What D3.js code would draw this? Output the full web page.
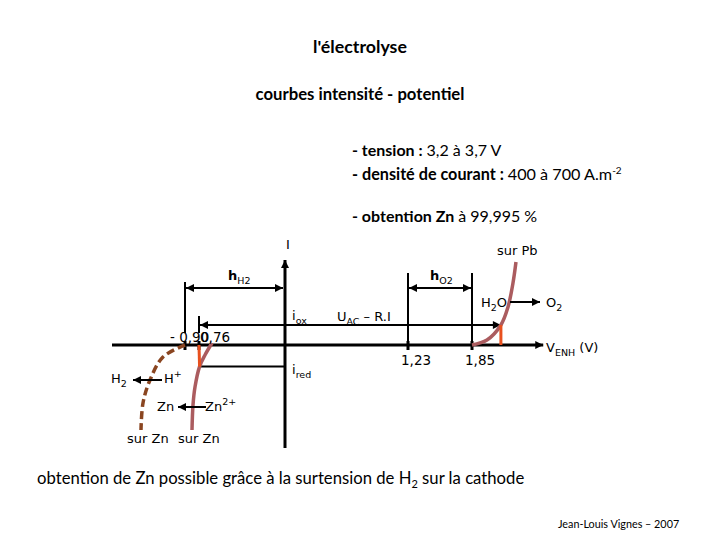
<!DOCTYPE html>
<html>
<head>
<meta charset="utf-8">
<script src="https://cdn.jsdelivr.net/npm/d3@7"></script>
<style>
  body { margin: 0; background: #fff; }
  .head { font-family: Lato, "Open Sans", sans-serif; font-weight: bold; }
  .note { font-family: Lato, "Open Sans", sans-serif; }
  .lbl { font-family: "DejaVu Sans", Verdana, sans-serif; }
</style>
</head>
<body>
<svg id="chart" width="720" height="540"></svg>
<script>
// tick positions on the potential axis (V) and their labels
var potTicks = [-0.90, -0.76, 1.23, 1.85];
var potLabels = ["- 0,90", "0,76", "1,23", "1,85"];
// currents (arbitrary units)
var iOx = 1, iRed = -1.08;
var vOx = 2.13;               // anode potential at i_ox
// intensity-potential curves [V, I]
var znCurve = [[-0.645, 0.1], [-0.707, -0.5], [-0.755, -1.08], [-0.80, -2.1], [-0.82, -3.0], [-0.83, -4.25]];
var h2Curve = [[-0.90, 0], [-1.12, -0.6], [-1.25, -1.75], [-1.32, -2.9], [-1.34, -4.25]];
var o2Curve = [[1.85, 0], [1.995, 0.25], [vOx, 1.0], [2.199, 1.9], [2.247, 3.1], [2.276, 4.15]];

var svg = d3.select("#chart");

// scales (diagram is schematic, so piecewise)
var x = d3.scaleLinear()
    .domain([-0.90, -0.76, 0, 1.23, 1.85])
    .range([185, 199, 285, 408, 472]);
var y = d3.scaleLinear()
    .domain([0, 1])
    .range([345, 325]);

// arrow head marker
var defs = svg.append("defs");
defs.append("marker")
    .attr("id", "arr")
    .attr("viewBox", "0 0 10 10")
    .attr("refX", 10).attr("refY", 5)
    .attr("markerWidth", 9).attr("markerHeight", 8)
    .attr("markerUnits", "userSpaceOnUse")
    .attr("orient", "auto-start-reverse")
    .append("path")
    .attr("d", "M0,0 L10,5 L0,10 Z")
    .attr("fill", "#000");

// titles
svg.append("text").attr("class", "head").attr("x", 360).attr("y", 53)
    .attr("text-anchor", "middle").style("font-size", "17.8px").text("l'électrolyse");
svg.append("text").attr("class", "head").attr("x", 360).attr("y", 100)
    .attr("text-anchor", "middle").style("font-size", "16.7px").text("courbes intensité - potentiel");

var b1 = svg.append("text").attr("class", "note").attr("x", 352).attr("y", 156).style("font-size", "16px");
b1.append("tspan").attr("font-weight", "bold").text("- tension : ");
b1.append("tspan").text("3,2 à 3,7 V");
var b2 = svg.append("text").attr("class", "note").attr("x", 352).attr("y", 180).style("font-size", "16.2px");
b2.append("tspan").attr("font-weight", "bold").text("- densité de courant : ");
b2.append("tspan").text("400 à 700 A.m");
b2.append("tspan").attr("font-size", 10).attr("dy", -6).text("-2");
var b3 = svg.append("text").attr("class", "note").attr("x", 352).attr("y", 222).style("font-size", "16px");
b3.append("tspan").attr("font-weight", "bold").text("- obtention Zn ");
b3.append("tspan").text("à 99,995 %");

// axes
svg.append("line")
    .attr("x1", x(-1.63)).attr("x2", x(2.54))
    .attr("y1", y(0)).attr("y2", y(0))
    .attr("stroke", "#000").attr("stroke-width", 3)
    .attr("marker-end", "url(#arr)");
svg.append("line")
    .attr("x1", x(0)).attr("x2", x(0))
    .attr("y1", y(-5.15)).attr("y2", y(4.25))
    .attr("stroke", "#000").attr("stroke-width", 3)
    .attr("marker-end", "url(#arr)");

// tick marks
svg.selectAll(".tk").data(potTicks).enter().append("line")
    .attr("x1", d => x(d)).attr("x2", d => x(d))
    .attr("y1", y(0) - 4).attr("y2", y(0) + 5)
    .attr("stroke", "#000").attr("stroke-width", 3);

// dimension lines (overpotentials)
svg.append("line").attr("x1", x(-0.90)).attr("x2", x(-0.90))
    .attr("y1", y(3.15)).attr("y2", y(0.6)).attr("stroke", "#000").attr("stroke-width", 2);
svg.append("line").attr("x1", x(1.23)).attr("x2", x(1.23))
    .attr("y1", y(3.6)).attr("y2", y(0)).attr("stroke", "#000").attr("stroke-width", 2);
svg.append("line").attr("x1", x(1.85)).attr("x2", x(1.85))
    .attr("y1", y(3.6)).attr("y2", y(0)).attr("stroke", "#000").attr("stroke-width", 2);
svg.append("line").attr("x1", x(-0.76)).attr("x2", x(-0.76))
    .attr("y1", y(1.45)).attr("y2", y(0.6)).attr("stroke", "#000").attr("stroke-width", 2);

svg.append("line").attr("x1", x(-0.90) + 1).attr("x2", x(0) - 2)
    .attr("y1", y(2.85)).attr("y2", y(2.85))
    .attr("stroke", "#000").attr("stroke-width", 2)
    .attr("marker-start", "url(#arr)").attr("marker-end", "url(#arr)");
svg.append("line").attr("x1", x(1.23) + 1).attr("x2", x(1.85) - 1)
    .attr("y1", y(2.85)).attr("y2", y(2.85))
    .attr("stroke", "#000").attr("stroke-width", 2)
    .attr("marker-start", "url(#arr)").attr("marker-end", "url(#arr)");

// i_ox line : U_AC - R.I
svg.append("line").attr("x1", x(-0.76) + 1).attr("x2", x(vOx))
    .attr("y1", y(iOx)).attr("y2", y(iOx))
    .attr("stroke", "#000").attr("stroke-width", 2)
    .attr("marker-start", "url(#arr)").attr("marker-end", "url(#arr)");
// i_red line
svg.append("line").attr("x1", x(-0.76)).attr("x2", x(0))
    .attr("y1", y(iRed)).attr("y2", y(iRed))
    .attr("stroke", "#000").attr("stroke-width", 2);

// curves
var line = d3.line().x(d => x(d[0])).y(d => y(d[1])).curve(d3.curveCatmullRom);
svg.append("path").datum(h2Curve).attr("d", line)
    .attr("fill", "none").attr("stroke", "#8a4520").attr("stroke-width", 3.5)
    .attr("stroke-dasharray", "8,4");
svg.append("path").datum(znCurve).attr("d", line)
    .attr("fill", "none").attr("stroke", "#ab5c5f").attr("stroke-width", 3.5);
svg.append("path").datum(o2Curve).attr("d", line)
    .attr("fill", "none").attr("stroke", "#ab5c5f").attr("stroke-width", 3.5);

// overpotential segments (orange)
svg.append("line").attr("x1", x(-0.76)).attr("x2", x(-0.755))
    .attr("y1", y(0)).attr("y2", y(iRed))
    .attr("stroke", "#e8501e").attr("stroke-width", 3);
svg.append("line").attr("x1", x(vOx)).attr("x2", x(vOx))
    .attr("y1", y(0)).attr("y2", y(iOx))
    .attr("stroke", "#e8501e").attr("stroke-width", 3);

// labels helper: base text + subscript/superscript
function lab(px, py, parts, weight) {
  var t = svg.append("text").attr("class", "lbl").attr("x", px).attr("y", py).style("font-size", "13px");
  if (weight) t.attr("font-weight", weight);
  parts.forEach(function(p) {
    var s = t.append("tspan").text(p[0]);
    if (p[1] == "sub") s.style("font-size", "9.5px").attr("dy", 4).attr("font-weight", "normal");
    if (p[1] == "sup") s.style("font-size", "9.5px").attr("dy", -6);
    if (p[1] == "back") s.attr("dy", p[2]);
  });
  return t;
}

lab(x(0) + 1, 249, [["I"]]);
lab(228, 280, [["h"], ["H2", "sub"]], "bold");
lab(430, 280, [["h"], ["O2", "sub"]], "bold");
lab(292, 320, [["i"], ["ox", "sub"]]);
lab(292, 374, [["i"], ["red", "sub"]]);
lab(337, 321, [["U"], ["AC", "sub"], [" – R.I", "back", -4]]);

svg.selectAll(".tl").data(potTicks).enter().append("text")
    .attr("class", "lbl")
    .attr("x", (d, i) => i < 2 ? x(d) - (i == 0 ? 15 : -1) : x(d) - 7)
    .attr("y", (d, i) => i < 2 ? 342 : 365)
    .style("font-size", "13.5px")
    .text((d, i) => potLabels[i]);

lab(546, 352, [["V"], ["ENH", "sub"], [" (V)", "back", -4]]);
lab(481, 307, [["H"], ["2", "sub"], ["O", "back", -4]]);
lab(546, 307, [["O"], ["2", "sub"]]);
lab(497, 255, [["sur Pb"]]);

lab(111, 383, [["H"], ["2", "sub"]]);
lab(164, 383, [["H"], ["+", "sup"]]);
lab(157, 411, [["Zn"]]);
lab(205, 411, [["Zn"], ["2+", "sup"]]);
lab(127, 443, [["sur Zn"]]);
lab(178, 443, [["sur Zn"]]);

// reaction arrows
var reac = [[510, 540, 302], [162, 133, 380], [206, 178, 407]];
svg.selectAll(".ra").data(reac).enter().append("line")
    .attr("x1", d => d[0]).attr("x2", d => d[1])
    .attr("y1", d => d[2]).attr("y2", d => d[2])
    .attr("stroke", "#000").attr("stroke-width", 2)
    .attr("marker-end", "url(#arr)");

// bottom notes
var bt = svg.append("text").attr("class", "note").attr("x", 37).attr("y", 484).style("font-size", "16.7px");
bt.append("tspan").text("obtention de Zn possible grâce à la surtension de H");
bt.append("tspan").style("font-size", "11px").attr("dy", 4).text("2");
bt.append("tspan").attr("dy", -4).text(" sur la cathode");

svg.append("text").attr("class", "note").attr("x", 558).attr("y", 528)
    .style("font-size", "10.8px")
    .text("Jean-Louis Vignes – 2007");
</script>
</body>
</html>
